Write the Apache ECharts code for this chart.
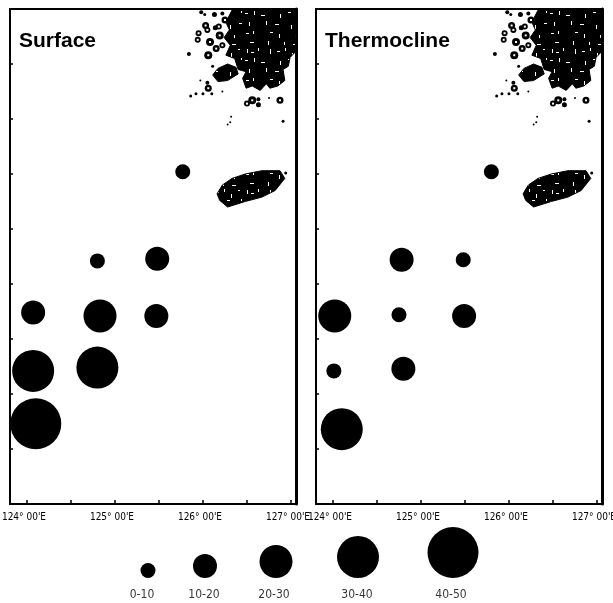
<!DOCTYPE html>
<html>
<head>
<meta charset="utf-8">
<style>html,body{margin:0;padding:0;background:#fff}#c{width:613px;height:603px}</style>
<script src="https://cdn.jsdelivr.net/npm/echarts@6/dist/echarts.min.js"></script>
</head>
<body>
<div id="c"></div>
<script>
// ---- data ----
const panelTitles = ['Surface', 'Thermocline'];
const lonTicks = [124, 124.5, 125, 125.5, 126, 126.5, 127];
const lonLabels = [124, 125, 126, 127];

const surfaceLon = [125.77, 124.80, 125.48, 124.07, 124.83, 125.47, 124.07, 124.80, 124.10];
const surfaceLat = [33.52, 32.71, 32.73, 32.24, 32.21, 32.21, 31.71, 31.74, 31.23];
const surfaceClass = [5, 5, 15, 15, 25, 15, 35, 35, 45];

const thermoLon = [125.80, 124.78, 125.48, 124.02, 124.75, 125.49, 124.01, 124.80, 124.10];
const thermoLat = [33.52, 32.72, 32.72, 32.21, 32.22, 32.21, 31.71, 31.73, 31.18];
const thermoClass = [5, 15, 5, 25, 5, 15, 5, 15, 35];

const legendNames = ['0-10', '10-20', '20-30', '30-40', '40-50'];
const legendClass = [5, 15, 25, 35, 45];

// land outlines, [lon, lat]
const landMain = [[126.33,34.99],[127.05,34.99],[127.05,34.61],[126.99,34.56],[126.97,34.48],[126.91,34.45],[126.93,34.35],[126.85,34.30],[126.76,34.28],[126.72,34.32],[126.65,34.26],[126.56,34.30],[126.49,34.28],[126.45,34.37],[126.49,34.43],[126.40,34.45],[126.36,34.55],[126.26,34.58],[126.31,34.67],[126.24,34.74],[126.30,34.81],[126.26,34.88]];
const landBlob = [[126.11,34.40],[126.17,34.46],[126.28,34.50],[126.375,34.47],[126.40,34.41],[126.28,34.35],[126.17,34.34]];
const landJeju = [[126.16,33.32],[126.22,33.40],[126.33,33.46],[126.48,33.50],[126.67,33.53],[126.875,33.53],[126.93,33.46],[126.82,33.35],[126.67,33.29],[126.48,33.25],[126.28,33.20],[126.19,33.26]];
const landShapes = [landMain, landBlob, landJeju];
// small islands: lon, lat, size
const islands = [[125.84,34.59,4],[125.98,34.97,4],[126.13,34.95,5],[126.22,34.96,4],[126.03,34.85,7],[125.95,34.78,6],[126.05,34.81,6],[125.94,34.72,6],[126.08,34.70,8],[126.15,34.64,7],[126.06,34.58,8],[126.19,34.76,8],[126.14,34.83,5],[126.25,34.90,7],[126.18,34.84,6],[126.22,34.67,6],[126.02,34.95,3],[126.11,34.48,3],[125.97,34.35,2],[125.86,34.21,3],[125.92,34.23,3],[126.00,34.23,3],[126.06,34.28,7],[126.05,34.33,4],[126.10,34.23,3],[126.22,34.25,2],[126.56,34.17,8],[126.50,34.14,6],[126.63,34.18,4],[126.63,34.13,5],[126.75,34.19,2],[126.875,34.17,7],[126.91,33.98,3],[126.32,34.02,2],[126.28,33.95,2],[126.31,33.97,2],[126.94,33.51,3]];

// ---- layout ----
const PANEL_LEFT = [10, 316], PANEL_WIDTH = 286, PANEL_TOP = 9, PANEL_BOTTOM = 504;
const LON_MIN = 123.807, LON_MAX = 127.057, LAT_MIN = 30.5, LAT_MAX = 35, LAT_STEP = 0.5;
const LEGEND_KEY_X = [148, 205, 276, 358, 453], LEGEND_LABEL_X = [142, 204, 274, 357, 451];
const LEGEND_BASE = 48, LEGEND_TEXT = 65;
const NARROW = '"DejaVu Sans Condensed","Liberation Sans",sans-serif';
const sizeOf = v => 15 + 0.9 * (v - 5);

// scan-like speckle for the land fill
const SPECKS = [[3,2,1,4],[7,5,3,1],[14,1,1,3],[26,2,1,5],[33,4,3,1],[41,1,1,3],[48,6,1,4],[55,2,2,1],[1,13,3,1],[10,11,1,4],[17,15,4,1],[36,14,1,4],[44,12,3,1],[58,11,1,2],[5,22,1,4],[22,21,1,4],[31,24,4,1],[47,25,1,4],[56,23,3,1],[2,33,3,1],[9,31,1,3],[26,32,3,1],[35,34,1,4],[51,35,1,3],[6,42,4,1],[24,41,1,4],[40,42,1,3],[49,44,4,1]];
const tile = document.createElement('canvas');
tile.width = 61; tile.height = 47;
const tc = tile.getContext('2d');
tc.fillStyle = '#000'; tc.fillRect(0, 0, 61, 47);
tc.fillStyle = '#fff';
SPECKS.forEach(s => tc.fillRect(s[0], s[1], s[2], s[3]));

const grids = [], xAxes = [], yAxes = [], series = [];
const stationSets = [[surfaceLon, surfaceLat, surfaceClass], [thermoLon, thermoLat, thermoClass]];

PANEL_LEFT.forEach((left, i) => {
  grids.push({left, width: PANEL_WIDTH, top: PANEL_TOP, height: PANEL_BOTTOM - PANEL_TOP, outerBoundsMode: 'none',
    show: true, borderColor: '#000', borderWidth: 2, backgroundColor: '#fff'});
  xAxes.push({type: 'value', gridIndex: i, min: LON_MIN, max: LON_MAX, position: 'bottom',
    splitLine: {show: false},
    axisLine: {show: true, onZero: false, lineStyle: {color: '#000', width: 2}},
    axisTick: {show: true, inside: true, length: 4, customValues: lonTicks, lineStyle: {color: '#000', width: 1.5}},
    minorTick: {show: false},
    axisLabel: {show: true, customValues: lonLabels, margin: 8, hideOverlap: false, padding: [0, 6, 0, 0],
      color: '#000', fontFamily: NARROW, fontSize: 10, formatter: v => v + "\u00B0 00'E"}});
  yAxes.push({type: 'value', gridIndex: i, min: LAT_MIN, max: LAT_MAX, interval: LAT_STEP, position: 'left',
    splitLine: {show: false}, axisLabel: {show: false},
    axisLine: {show: true, onZero: false, lineStyle: {color: '#000', width: 1.5}},
    axisTick: {show: true, inside: true, length: 3, lineStyle: {color: '#000', width: 1.5}}});
  yAxes.push({type: 'value', gridIndex: i, min: LAT_MIN, max: LAT_MAX, position: 'right',
    splitLine: {show: false}, axisLabel: {show: false}, axisTick: {show: false},
    axisLine: {show: true, onZero: false, lineStyle: {color: '#000', width: 3}}});
  const yIdx = i * 2;

  series.push({type: 'custom', name: 'land', xAxisIndex: i, yAxisIndex: yIdx, silent: true, z: 2,
    data: landShapes.map((s, k) => [s[0][0], s[0][1], k]),
    renderItem: (params, api) => ({
      type: 'polygon',
      shape: {points: landShapes[api.value(2)].map(p => api.coord(p))},
      style: {fill: {image: tile, repeat: 'repeat'}, stroke: '#000', lineWidth: 1}
    })});
  series.push({type: 'scatter', name: 'islands', xAxisIndex: i, yAxisIndex: yIdx, silent: true, z: 2,
    symbol: 'circle', symbolSize: d => d[2], itemStyle: {color: '#000', opacity: 1},
    data: islands});
  series.push({type: 'scatter', name: 'island holes', xAxisIndex: i, yAxisIndex: yIdx, silent: true, z: 2,
    symbol: 'rect', symbolSize: d => d[2] >= 6 ? 2 : 0, itemStyle: {color: '#fff', opacity: 1},
    data: islands});
  const [lon, lat, cls] = stationSets[i];
  series.push({type: 'scatter', name: panelTitles[i], xAxisIndex: i, yAxisIndex: yIdx, z: 3,
    symbol: 'circle', symbolSize: d => sizeOf(d[2]), itemStyle: {color: '#000', opacity: 1},
    data: lon.map((x, k) => [x, lat[k], cls[k]])});
});

// legend panel
grids.push({left: 0, width: 613, top: 530, height: 73, show: false, outerBoundsMode: 'none'});
xAxes.push({type: 'value', gridIndex: 2, min: 0, max: 613, show: false});
yAxes.push({type: 'value', gridIndex: 2, min: 0, max: 73, inverse: true, show: false});
series.push({type: 'scatter', name: 'legend keys', xAxisIndex: 2, yAxisIndex: 4, silent: true, symbol: 'circle',
  itemStyle: {color: '#000', opacity: 1},
  data: legendClass.map((v, k) => ({value: [LEGEND_KEY_X[k], LEGEND_BASE], symbolSize: sizeOf(v), symbolOffset: [0, -sizeOf(v) / 2]}))});
series.push({type: 'scatter', name: 'legend labels', xAxisIndex: 2, yAxisIndex: 4, silent: true, symbol: 'circle', symbolSize: 1,
  itemStyle: {color: 'rgba(0,0,0,0)'},
  label: {show: true, position: 'inside', color: '#000', fontFamily: NARROW, fontSize: 12, formatter: p => legendNames[p.dataIndex]},
  data: legendNames.map((n, k) => [LEGEND_LABEL_X[k], LEGEND_TEXT])});

const chart = echarts.init(document.getElementById('c'), null, {renderer: 'canvas'});
chart.setOption({
  animation: false,
  backgroundColor: '#fff',
  title: [
    {text: panelTitles[0], left: 19, top: 31, padding: 0, textStyle: {fontFamily: '"Liberation Sans",Arial,sans-serif', fontWeight: 'bold', fontSize: 21, color: '#000'}},
    {text: panelTitles[1], left: 325, top: 31, padding: 0, textStyle: {fontFamily: '"Liberation Sans",Arial,sans-serif', fontWeight: 'bold', fontSize: 21, color: '#000'}}
  ],
  grid: grids, xAxis: xAxes, yAxis: yAxes, series
});
</script>
</body>
</html>
